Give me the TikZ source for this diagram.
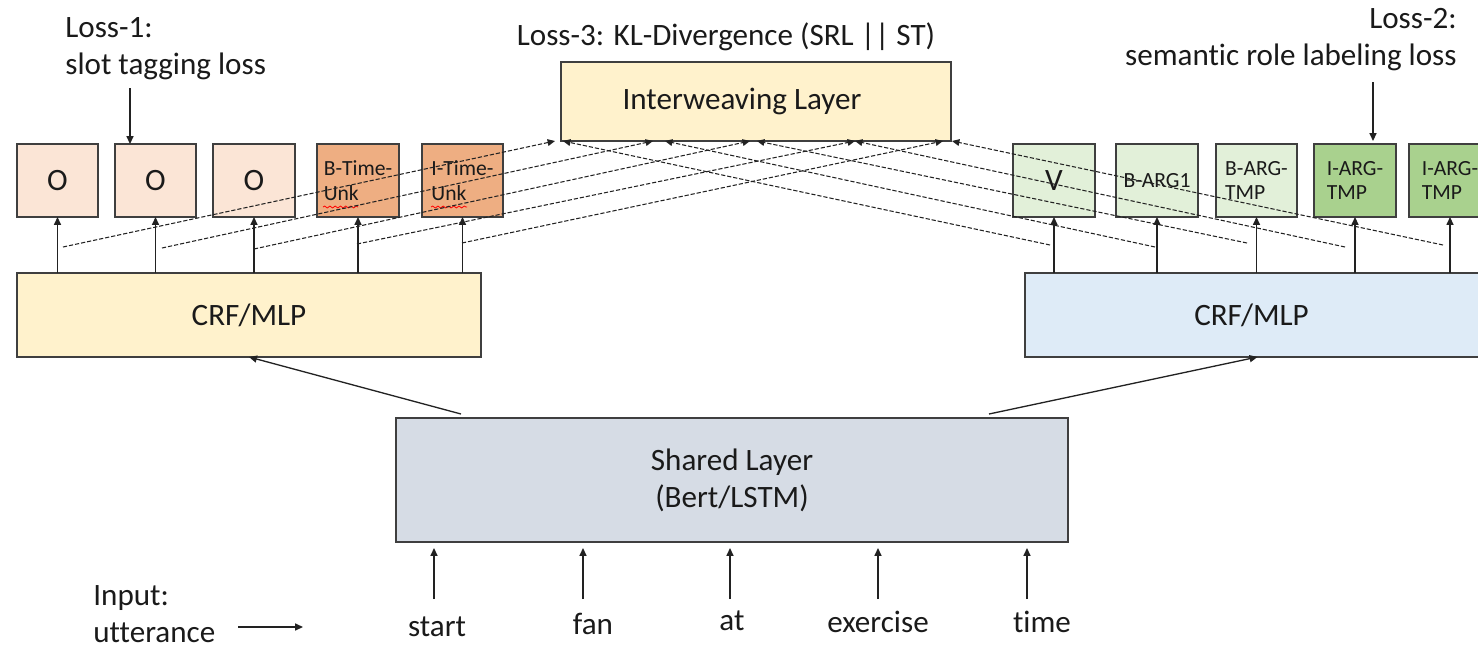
\documentclass[tikz,border=0pt]{standalone}
\usepackage{fontspec}
\setmainfont{Carlito}[Ligatures=NoCommon]
\usetikzlibrary{arrows.meta,decorations.pathmorphing,calc}
\definecolor{bordergray}{HTML}{3F3F3F}
\definecolor{linegray}{HTML}{222222}
\definecolor{textblack}{HTML}{1A1A1A}
\definecolor{orangepale}{HTML}{FBE5D6}
\definecolor{orangemid}{HTML}{EEAE82}
\definecolor{greenpale}{HTML}{E2F0D9}
\definecolor{greenmid}{HTML}{A9D18E}
\definecolor{yellowpale}{HTML}{FFF2CC}
\definecolor{bluepale}{HTML}{DEEBF7}
\definecolor{graypale}{HTML}{D6DCE5}
\begin{document}
\begin{tikzpicture}[x=0.02cm,y=-0.02cm,
  font=\fontsize{17.7}{21}\selectfont, text=textblack,
  box/.style={draw=bordergray, line width=0.9pt, inner sep=0pt, outer sep=0pt},
  tag/.style={box, minimum width=1.63cm, minimum height=1.46cm},
  small/.style={font=\fontsize{12.3}{14.2}\selectfont, align=left},
  arr/.style={draw=linegray, line width=0.75pt, -{Triangle[length=4.5pt,width=4pt]}},
  darr/.style={draw=linegray, line width=0.6pt, dash pattern=on 2.4pt off 1.1pt, -{Triangle[length=4.2pt,width=3.8pt]}},
  squig/.style={draw=red, line width=0.45pt, decorate, decoration={snake, amplitude=0.55pt, segment length=3pt}}
  ]
\clip (0,0) rectangle (1478,650);

% labels
\node[anchor=north west, align=left, inner sep=0pt] (loss1) at (65,17) {Loss-1:\\slot tagging loss};
\node[anchor=north east, align=right, inner sep=0pt] (loss2) at (1457,8) {Loss-2:\\semantic role labeling loss};
\node[anchor=base, inner sep=0pt] (loss3) at (726,45) {Loss-3: KL-Divergence (SRL || ST)};

% interweaving layer
\node[box, fill=yellowpale, minimum width=7.8cm, minimum height=1.58cm] (inter) at (756,101.5) {Interweaving Layer\hspace*{0.56cm}};

% slot tagging outputs
\node[tag, fill=orangepale] (sL1) at (57.5,180.5) {O};
\node[tag, fill=orangepale] (sL2) at (155.5,180.5) {O};
\node[tag, fill=orangepale] (sL3) at (254,180.5) {O};
\node[tag, fill=orangemid, small] (sL4) at (358,180.5) {B-Time-\\Unk};
\node[tag, fill=orangemid, small] (sL5) at (462.5,180.5) {I-Time-\\Unk};

% SRL outputs
\node[tag, fill=greenpale] (sR1) at (1054,180.5) {V};
\node[tag, fill=greenpale, small] (sR2) at (1157,180.5) {B-ARG1};
\node[tag, fill=greenpale, small] (sR3) at (1256.5,180.5) {B-ARG-\\TMP};
\node[tag, fill=greenmid, small] (sR4) at (1355,180.5) {I-ARG-\\TMP};
\node[tag, fill=greenmid, small] (sR5) at (1450,180.5) {I-ARG-\\TMP};

% spell-check squiggles
\draw[squig] (323,207) -- (358,207);
\draw[squig] (431,207) -- (467,207);

% CRF layers
\node[box, fill=yellowpale, minimum width=9.28cm, minimum height=1.68cm] (crfL) at (249,315) {CRF/MLP};
\node[box, fill=bluepale, minimum width=9.3cm, minimum height=1.68cm] (crfR) at (1257.5,315) {CRF/MLP\hspace*{0.24cm}};

% shared layer
\node[box, fill=graypale, minimum width=13.44cm, minimum height=2.48cm, align=center] (shared) at (732,480) {Shared Layer\\(Bert/LSTM)};

% input
\node[anchor=north west, align=left, inner sep=0pt] (inp) at (93,585) {Input:\\utterance};
\node[anchor=base, inner sep=0pt] (w1) at (437,636) {start};
\node[anchor=base, inner sep=0pt] (w2) at (593,634) {fan};
\node[anchor=base, inner sep=0pt] (w3) at (732,630) {at};
\node[anchor=base, inner sep=0pt] (w4) at (878,632) {exercise};
\node[anchor=base, inner sep=0pt] (w5) at (1042,632) {time};

\coordinate (ua) at (238,627);
\coordinate (ub) at (303,627);
\draw[arr] (ua) -- (ub);

\foreach \i/\x in {1/434,2/583,3/730,4/878,5/1027}{
  \coordinate (t\i) at (\x,599);
  \draw[arr, shorten >=0.12cm] (t\i) -- (t\i |- shared.south);
}

% shared -> CRF
\coordinate (shL) at (461,414);
\coordinate (shR) at (989,414);
\draw[arr] (shL) -- (crfL.south);
\draw[arr] (shR) -- (crfR.south);

% CRF -> tags
\foreach \n in {sL1,sL2,sL3,sL4,sL5}{
  \draw[arr] (\n.south |- crfL.north) -- (\n.south);
}
\foreach \n in {sR1,sR2,sR3,sR4,sR5}{
  \draw[arr] (\n.south |- crfR.north) -- (\n.south);
}

% loss arrows
\coordinate (l1a) at (130,88);
\draw[arr] (l1a) -- (l1a |- sL2.north);
\coordinate (l2a) at (1373,82);
\draw[arr, shorten >=0.06cm] (l2a) -- (l2a |- sR4.north);

% interweaving dashed connectors
\foreach \i/\sx/\sy/\ex in {1/63/247/555, 2/162/248/653, 3/254/249/750, 4/357/244/855, 5/462/243/943}{
  \coordinate (dl\i) at (\sx,\sy);
  \coordinate (il\i) at (\ex,141);
  \draw[darr] (dl\i) -- (il\i);
}
\foreach \i/\sx/\sy/\ex in {1/1050/245/563, 2/1155/247/665, 3/1247/243/757, 4/1345/247/855, 5/1443/245/952}{
  \coordinate (dr\i) at (\sx,\sy);
  \coordinate (ir\i) at (\ex,141);
  \draw[darr] (dr\i) -- (ir\i);
}
\end{tikzpicture}
\end{document}
